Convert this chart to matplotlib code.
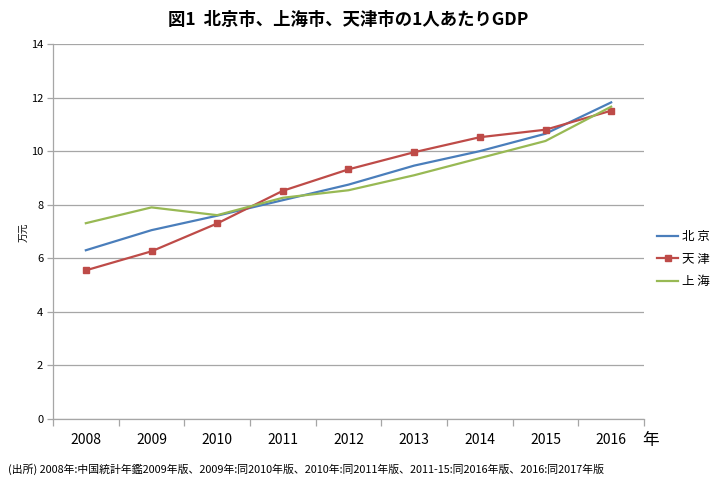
import matplotlib
matplotlib.use("Agg")
import matplotlib.pyplot as plt
import numpy as np
from matplotlib.ticker import FixedLocator, MultipleLocator

plt.rcParams['font.family'] = ['Noto Sans CJK JP', 'DejaVu Sans']

years = ['2008', '2009', '2010', '2011', '2012', '2013', '2014', '2015', '2016']
beijing = [6.30, 7.05, 7.59, 8.17, 8.75, 9.46, 10.00, 10.65, 11.82]
tianjin = [5.55, 6.26, 7.30, 8.52, 9.32, 9.96, 10.52, 10.80, 11.51]
shanghai = [7.31, 7.90, 7.61, 8.26, 8.54, 9.10, 9.74, 10.38, 11.66]

title = '図1  北京市、上海市、天津市の1人あたりGDP'
note = '(出所) 2008年:中国統計年鑑2009年版、2009年:同2010年版、2010年:同2011年版、2011-15:同2016年版、2016:同2017年版'

fig = plt.figure(figsize=(7.2, 4.84), dpi=100)
ax = fig.add_axes([53/720, 1-419/484, (644-53)/720, (419-44)/484])

x = np.arange(len(years))
ax.plot(x, beijing, color='#4A7EBB', lw=1.6, label='北 京')
ax.plot(x, tianjin, color='#BE4B48', lw=1.6, marker='s', ms=5, label='天 津')
ax.plot(x, shanghai, color='#98B954', lw=1.6, label='上 海')

ax.set_xlim(-0.5, len(years) - 0.5)
ax.set_ylim(0, 14)
ax.yaxis.set_major_locator(MultipleLocator(2))
ax.grid(axis='y', color='#A6A6A6', lw=0.9)
ax.set_axisbelow(True)

ax.set_xticks(x)
ax.set_xticklabels(years, fontsize=10)
ax.xaxis.set_minor_locator(FixedLocator(np.arange(-0.5, len(years), 1.0)))
ax.tick_params(axis='x', which='major', length=0, pad=10)
ax.tick_params(axis='x', which='minor', length=5, color='#A6A6A6', width=0.9)
ax.tick_params(axis='y', length=4, color='#A6A6A6', width=0.9, labelsize=8, pad=3)

for s in ['top', 'right']:
    ax.spines[s].set_visible(False)
for s in ['left', 'bottom']:
    ax.spines[s].set_color('#A6A6A6')
    ax.spines[s].set_linewidth(0.9)

ax.set_ylabel('万元', fontsize=7, rotation=90, labelpad=10)
ax.yaxis.set_label_coords(-22/591 - 0.005, (419-232)/375)

fig.text(651/720, 1-441/484, '年', fontsize=12, ha='center', va='center')
fig.text(348/720, 1-20/484, title, fontsize=12.5, fontweight='bold', ha='center', va='center')
fig.text(8/720, 1-469/484, note, fontsize=7.8, ha='left', va='center')

leg = ax.legend(loc='center left', bbox_to_anchor=(657/720, 1-259/484), bbox_transform=fig.transFigure,
                frameon=False, fontsize=9, handlelength=1.7, handletextpad=0.3, labelspacing=0.75,
                borderpad=0, borderaxespad=0)

fig.savefig('out.png', dpi=100)
